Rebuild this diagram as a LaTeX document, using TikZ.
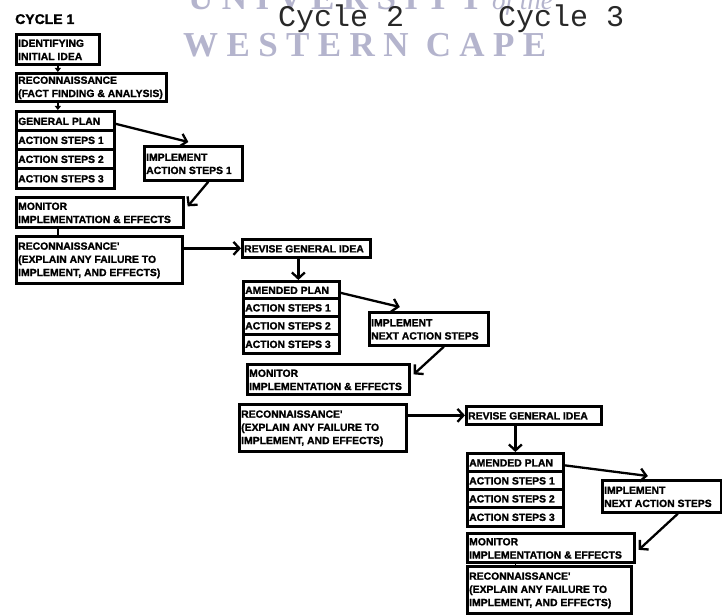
\documentclass[tikz,border=0pt]{standalone}
\usepackage{fontspec}
\setmainfont{Liberation Sans}
\newfontfamily\boxfont{Liberation Sans}[BoldFeatures={FakeBold=1.3}]
\newfontfamily\wmfont{Liberation Serif}
\newfontfamily\wmspaced{Liberation Serif}[LetterSpace=24]
\newfontfamily\cyfont{Liberation Mono}
\usetikzlibrary{arrows.meta,calc}
\definecolor{wm}{RGB}{180,180,205}
\definecolor{cy}{RGB}{40,40,40}
\tikzset{
  box/.style={draw, line width=2.7pt, inner sep=0pt},
  boxtext/.style={inner sep=0pt, anchor=west, align=left,
    font=\boxfont\bfseries\fontsize{10.4}{13.2}\selectfont},
  arr/.style={line width=2.3pt, -{Straight Barb[length=6pt,width=13pt]}},
  smallarr/.style={line width=1.7pt, -{Triangle[length=4pt,width=6pt]}},
  link/.style={line width=1.7pt},
  wmtext/.style={text=wm, inner sep=0pt, anchor=base west},
  cytext/.style={text=cy, inner sep=0pt, anchor=base west, font=\cyfont\fontsize{30}{30}\selectfont},
}
\newcommand\bx[6]{%
  \pgfmathsetmacro\bw{#4-#2}\pgfmathsetmacro\bh{#5-#3}%
  \node[box, anchor=north west, minimum width=\bw pt, minimum height=\bh pt] (#1) at (#2,#3) {};
  \node[boxtext] (#1t) at ($(#1.west)+(3,0.5)$) {#6};}
\begin{document}
\begin{tikzpicture}[x=1pt,y=-1pt]
\fill[white] (0,0) rectangle (722,615);
\useasboundingbox (0,0) rectangle (722,615);
% watermark
\node[wmtext, font=\wmspaced\bfseries\fontsize{35}{35}\selectfont] (wm1) at (188,10) {UNIVERSITY};
\node[wmtext, font=\wmfont\itshape\fontsize{27}{27}\selectfont] (wm2) at (492,10) {of the};
\node[wmtext, font=\wmspaced\bfseries\fontsize{35}{35}\selectfont] (wm3) at (183,57) {WESTERN CAPE};
% headings
\node[inner sep=0pt, anchor=base west, font=\boxfont\bfseries\fontsize{14}{14}\selectfont] (c1) at (15,24) {CYCLE 1};
\node[cytext] (c2) at (278,27) {Cycle 2};
\node[cytext] (c3) at (498,27) {Cycle 3};
% cycle 1
\bx{idea}{15}{33}{98}{63}{IDENTIFYING\\INITIAL IDEA}
\bx{rc0}{15}{72}{165}{100}{RECONNAISSANCE\\(FACT FINDING \& ANALYSIS)}
\bx{gp}{15}{110}{113}{129}{GENERAL PLAN}
\bx{as11}{15}{129}{113}{148}{ACTION STEPS 1}
\bx{as12}{15}{148}{113}{167}{ACTION STEPS 2}
\bx{as13}{15}{167}{113}{187}{ACTION STEPS 3}
\bx{im1}{143}{145}{241}{179}{IMPLEMENT\\ACTION STEPS 1}
\bx{mo1}{15}{196}{182}{226}{MONITOR\\IMPLEMENTATION \& EFFECTS}
\bx{rc1}{15}{235}{181}{282}{RECONNAISSANCE'\\(EXPLAIN ANY FAILURE TO\\IMPLEMENT, AND EFFECTS)}
% cycle 2
\bx{rv2}{241}{238}{369}{256}{REVISE GENERAL IDEA}
\bx{ap2}{242}{280}{338}{297}{AMENDED PLAN}
\bx{as21}{242}{297}{338}{315}{ACTION STEPS 1}
\bx{as22}{242}{315}{338}{333}{ACTION STEPS 2}
\bx{as23}{242}{333}{338}{352}{ACTION STEPS 3}
\bx{im2}{368}{311}{487}{344}{IMPLEMENT\\NEXT ACTION STEPS}
\bx{mo2}{246}{363}{408}{393}{MONITOR\\IMPLEMENTATION \& EFFECTS}
\bx{rc2}{238}{403}{405}{450}{RECONNAISSANCE'\\(EXPLAIN ANY FAILURE TO\\IMPLEMENT, AND EFFECTS)}
% cycle 3
\bx{rv3}{465}{405}{600}{423}{REVISE GENERAL IDEA}
\bx{ap3}{466}{452}{562}{470}{AMENDED PLAN}
\bx{as31}{466}{470}{562}{488}{ACTION STEPS 1}
\bx{as32}{466}{488}{562}{506}{ACTION STEPS 2}
\bx{as33}{466}{506}{562}{525}{ACTION STEPS 3}
\bx{im3}{601}{479}{720}{511}{IMPLEMENT\\NEXT ACTION STEPS}
\bx{mo3}{466}{532}{633}{561}{MONITOR\\IMPLEMENTATION \& EFFECTS}
\bx{rc3}{466}{565}{630}{612}{RECONNAISSANCE'\\(EXPLAIN ANY FAILURE TO\\IMPLEMENT, AND EFFECTS)}
% connectors cycle 1
\draw[smallarr] (idea.south) -- (rc0.north -| idea.south);
\draw[smallarr] (rc0.south -| idea.south) -- (gp.north -| idea.south);
\draw[arr] ($(gp.east)+(0,3)$) -- ($(im1.north)+(-5,-3)$);
\draw[arr] ($(im1.south)+(15,0)$) -- ($(mo1.east)+(3,-6)$);
\draw[link] (mo1.south -| idea.south) -- (rc1.north -| idea.south);
\draw[arr] (rc1.east |- rv2.west) -- (rv2.west);
% connectors cycle 2
\draw[arr] ($(rv2.south -| ap2.north)+(7,0)$) -- ($(ap2.north)+(7,0)$);
\draw[arr] ($(ap2.east)+(0,3)$) -- ($(im2.north)+(-29,-4)$);
\draw[arr] ($(im2.south)+(15,0)$) -- ($(mo2.east)+(3,-5)$);
\draw[arr] (rc2.east |- rv3.west) -- (rv3.west);
% connectors cycle 3
\draw[arr] (rv3.south -| ap3.north) -- (ap3.north);
\draw[arr] ($(ap3.east)+(0,3)$) -- ($(im3.north)+(-14,-3)$);
\draw[arr] ($(im3.south)+(16,0)$) -- ($(mo3.east)+(3,2)$);
\draw[link] (mo3.south -| ap3.north) -- (rc3.north -| ap3.north);
\end{tikzpicture}
\end{document}
